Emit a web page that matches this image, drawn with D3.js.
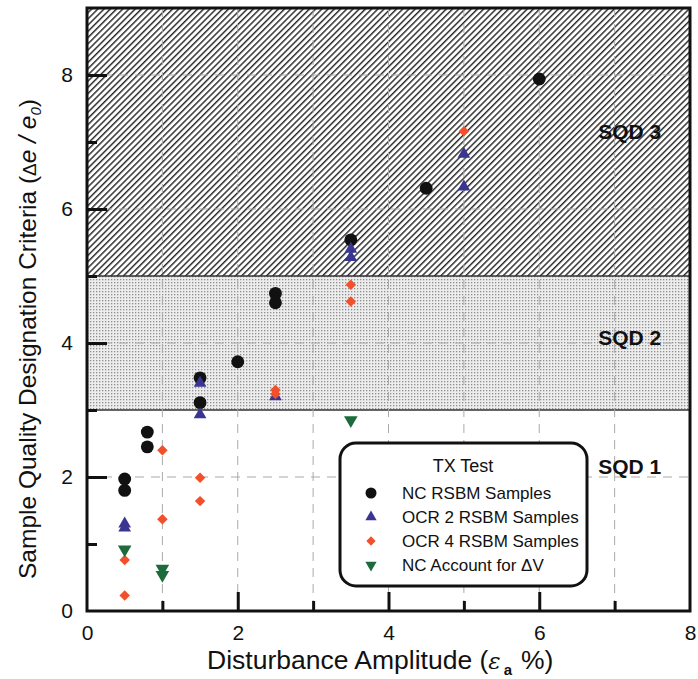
<!DOCTYPE html>
<html>
<head>
<meta charset="utf-8">
<script src="https://cdn.jsdelivr.net/npm/d3@7"></script>
<style>
  body { margin: 0; background: #fff; }
  svg { display: block; font-family: "Liberation Sans", Arial, sans-serif; }
</style>
</head>
<body>
<div id="chart"></div>
<script>
// data: [disturbance amplitude %, delta e / e0]
const ncRsbm = [[0.5, 1.97], [0.5, 1.8], [0.8, 2.67], [0.8, 2.45], [1.5, 3.48], [1.5, 3.11],
  [2, 3.72], [2.5, 4.74], [2.5, 4.6], [3.5, 5.54], [4.5, 6.31], [6, 7.94]]
const ocr2 = [[0.5, 1.3], [0.5, 1.24], [1.5, 3.4], [1.5, 2.93], [2.5, 3.2], [3.5, 5.4], [3.5, 5.28],
  [5, 6.82], [5, 6.33]]
const ocr4 = [[0.5, 0.76], [0.5, 0.23], [1, 2.4], [1, 1.37], [1.5, 1.99], [1.5, 1.64],
  [2.5, 3.3], [2.5, 3.24], [3.5, 4.87], [3.5, 4.62], [5, 7.16]]
const ncDeltaV = [[0.5, 0.92], [1, 0.63], [1, 0.54], [3.5, 2.85]]

const zones = [{name: "SQD 1", lo: 0, hi: 3, labelY: 2.15, fill: "#fff"},
  {name: "SQD 2", lo: 3, hi: 5, labelY: 4.08, fill: "url(#dots)"},
  {name: "SQD 3", lo: 5, hi: 9, labelY: 7.15, fill: "url(#hatch)"}]
const xTickLabels = [0, 2, 4, 6, 8]
const yTickLabels = [0, 2, 4, 6, 8]

const width = 698, height = 679
const margin = {top: 8, right: 8, bottom: 68, left: 87}

const svg = d3.select("#chart").append("svg")
  .attr("width", width).attr("height", height)

const x = d3.scaleLinear().domain([0, 8]).range([margin.left, width - margin.right])
const y = d3.scaleLinear().domain([0, 9]).range([height - margin.bottom, margin.top])

const defs = svg.append("defs")
let hatch = defs.append("pattern").attr("id", "hatch")
  .attr("patternUnits", "userSpaceOnUse").attr("width", 4.4).attr("height", 4.4)
  .attr("patternTransform", "rotate(45)")
hatch.append("rect").attr("width", 4.4).attr("height", 4.4).attr("fill", "#fff")
hatch.append("rect").attr("width", 1.45).attr("height", 4.4).attr("fill", "#2a2a2a")

let dots = defs.append("pattern").attr("id", "dots")
  .attr("patternUnits", "userSpaceOnUse").attr("width", 3).attr("height", 3)
dots.append("rect").attr("width", 3).attr("height", 3).attr("fill", "#ededed")
dots.append("rect").attr("width", 1.3).attr("height", 1.3).attr("fill", "#8e8e8e")

// shaded zones
svg.append("g").selectAll("rect").data(zones).join("rect")
  .attr("x", x(0)).attr("width", x(8) - x(0))
  .attr("y", d => y(d.hi)).attr("height", d => y(d.lo) - y(d.hi))
  .attr("fill", d => d.fill)

svg.append("g").selectAll("line").data([3, 5]).join("line")
  .attr("x1", x(0)).attr("x2", x(8))
  .attr("y1", d => y(d)).attr("y2", d => y(d))
  .attr("stroke", "#333").attr("stroke-width", 1.5)

// dashed grid
svg.append("g").selectAll("line").data(d3.range(1, 8)).join("line")
  .attr("x1", d => x(d)).attr("x2", d => x(d))
  .attr("y1", y(9)).attr("y2", y(0))
  .attr("stroke", "#aaa").attr("stroke-width", 1).attr("stroke-dasharray", "9,7")
svg.append("g").selectAll("line").data([2, 4, 6, 8]).join("line")
  .attr("x1", x(0)).attr("x2", x(8))
  .attr("y1", d => y(d)).attr("y2", d => y(d))
  .attr("stroke", "#aaa").attr("stroke-width", 1).attr("stroke-dasharray", "9,7")

// zone labels
svg.append("g").selectAll("text").data(zones).join("text")
  .attr("x", x(7.2)).attr("y", d => y(d.labelY))
  .attr("dy", "0.35em").attr("text-anchor", "middle")
  .attr("font-size", 21).attr("font-weight", "bold").attr("fill", "#111")
  .text(d => d.name)

// axes
const axisStyle = g => {
  g.select(".domain").remove()
  g.selectAll("line").attr("stroke", "#111").attr("stroke-width", 3)
  g.selectAll("text").attr("font-size", 21).attr("fill", "#111")
}
svg.append("g").attr("transform", `translate(0,${y(0)})`)
  .call(d3.axisBottom(x).tickValues([2, 4, 6]).tickSize(-19).tickFormat("")).call(axisStyle)
svg.append("g").attr("transform", `translate(0,${y(0)})`)
  .call(d3.axisBottom(x).tickValues([1, 3, 5, 7]).tickSize(-10).tickFormat("")).call(axisStyle)
svg.append("g").attr("transform", `translate(0,${y(0)})`)
  .call(d3.axisBottom(x).tickValues(xTickLabels).tickSize(0).tickPadding(14)).call(axisStyle)

svg.append("g").attr("transform", `translate(${x(0)},0)`)
  .call(d3.axisLeft(y).tickValues([2, 4, 6, 8]).tickSize(-20).tickFormat("")).call(axisStyle)
svg.append("g").attr("transform", `translate(${x(0)},0)`)
  .call(d3.axisLeft(y).tickValues([1, 3, 5, 7]).tickSize(-10).tickFormat("")).call(axisStyle)
svg.append("g").attr("transform", `translate(${x(0)},0)`)
  .call(d3.axisLeft(y).tickValues(yTickLabels).tickSize(0).tickPadding(14)).call(axisStyle)

// frame
svg.append("rect")
  .attr("x", x(0)).attr("y", y(9)).attr("width", x(8) - x(0)).attr("height", y(0) - y(9))
  .attr("fill", "none").attr("stroke", "#111").attr("stroke-width", 3)

// axis titles
let xt = svg.append("text").attr("x", 207).attr("y", 669)
  .attr("font-size", 26.5).attr("fill", "#111")
xt.append("tspan").text("Disturbance Amplitude (")
xt.append("tspan").attr("font-style", "italic").attr("font-family", "DejaVu Serif").attr("font-size", 23).text("ε")
xt.append("tspan").attr("font-size", 15).attr("font-weight", "bold").attr("dx", 3).attr("dy", 6).text("a")
xt.append("tspan").attr("dx", 9).attr("dy", -6).text("%)")

let yt = svg.append("text").attr("transform", "translate(36,339) rotate(-90)")
  .attr("text-anchor", "middle").attr("font-size", 24.5).attr("fill", "#111")
yt.append("tspan").text("Sample Quality Designation Criteria (")
yt.append("tspan").attr("font-size", 19).text("Δ")
yt.append("tspan").attr("font-style", "italic").text("e / e")
yt.append("tspan").attr("font-style", "italic").attr("font-size", 15).attr("dy", 5).text("0")
yt.append("tspan").attr("dy", -5).text(")")

// markers
const series = [
  {label: "NC RSBM Samples", data: ncRsbm, symbol: d3.symbolCircle, size: 130, color: "#111", rot: 0},
  {label: "OCR 2 RSBM Samples", data: ocr2, symbol: d3.symbolTriangle, size: 70, color: "#3b3592", rot: 0},
  {label: "OCR 4 RSBM Samples", data: ocr4, symbol: d3.symbolDiamond2, size: 70, color: "#f2502a", rot: 0},
  {label: "NC Account for ΔV", data: ncDeltaV, symbol: d3.symbolTriangle, size: 80, color: "#1d6b3c", rot: 180}
]

series.forEach(s => {
  svg.append("g").selectAll("path").data(s.data).join("path")
    .attr("d", d3.symbol(s.symbol, s.size))
    .attr("transform", d => `translate(${x(d[0])},${y(d[1])}) rotate(${s.rot})`)
    .attr("fill", s.color)
})

// legend
const lg = svg.append("g").attr("transform", "translate(340,443)")
lg.append("rect").attr("width", 247).attr("height", 143).attr("rx", 16)
  .attr("fill", "#fff").attr("stroke", "#111").attr("stroke-width", 3)
lg.append("text").attr("x", 123).attr("y", 29).attr("text-anchor", "middle")
  .attr("font-size", 18).attr("fill", "#111").text("TX Test")
const rows = lg.selectAll("g.row").data(series).join("g")
  .attr("transform", (d, i) => `translate(0,${50 + i * 24})`)
rows.append("path")
  .attr("d", (d, i) => d3.symbol(d.symbol, i == 0 ? 95 : 55)())
  .attr("transform", d => `translate(31,0) rotate(${d.rot})`)
  .attr("fill", d => d.color)
rows.append("text").attr("x", 62).attr("dy", "0.35em")
  .attr("font-size", 17).attr("fill", "#111")
  .text(d => d.label)
</script>
</body>
</html>
